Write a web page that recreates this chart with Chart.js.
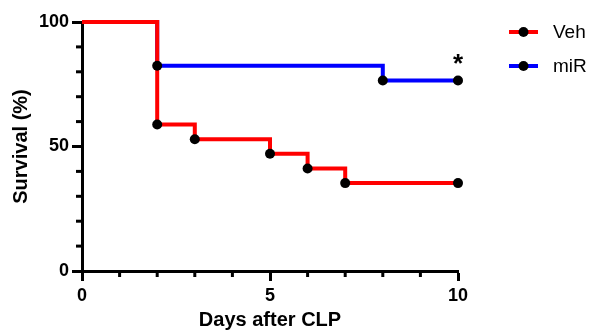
<!DOCTYPE html>
<html>
<head>
<meta charset="utf-8">
<script src="https://cdn.jsdelivr.net/npm/chart.js@4.4.1/dist/chart.umd.min.js"></script>
<style>
  html, body { margin: 0; padding: 0; background: #fff; }
  #wrap { position: relative; width: 589px; height: 332px; }
</style>
</head>
<body>
<div id="wrap"><canvas id="survivalChart"></canvas></div>
<script>
const vehDays = [0, 2, 3, 5, 6, 7, 10];
const vehSurvival = [100, 58.8, 52.9, 47.1, 41.2, 35.3, 35.3];
const mirDays = [0, 2, 8, 10];
const mirSurvival = [100, 82.4, 76.5, 76.5];
const xLabels = [0, 5, 10];
const yLabels = [0, 50, 100];
const seriesNames = ['Veh', 'miR'];
const seriesColors = ['#ff0000', '#0000ff'];

const FONT = "'Liberation Sans', Arial, Helvetica, sans-serif";

const toPoints = (xs, ys) => xs.map((x, i) => ({ x, y: ys[i] }));
const vehPoints = toPoints(vehDays, vehSurvival);
const mirPoints = toPoints(mirDays, mirSurvival);

// no marker at day 0, black dots at every event and at the end
const markerRadius = ctx => (ctx.dataIndex === 0 ? 0 : 5);

const markers = data => ({
    data,
    showLine: false,
    pointRadius: markerRadius,
    pointBackgroundColor: '#000',
    pointBorderWidth: 0,
    order: 0,
    clip: false
});

const stepLine = (label, data, color) => ({
    label,
    data,
    borderColor: color,
    borderWidth: 4,
    stepped: true,
    borderJoinStyle: 'miter',
    pointRadius: 0,
    fill: false,
    order: 1,
    clip: false
});

const decor = {
    id: 'decor',
    afterDraw(chart) {
        const { ctx } = chart;
        const xs = chart.scales.x;
        const ys = chart.scales.y;
        ctx.save();
        ctx.strokeStyle = '#000';
        ctx.lineWidth = 3;
        ctx.lineCap = 'butt';

        // minor ticks
        xs.ticks.forEach(t => {
            if (xLabels.includes(t.value)) return;
            const px = xs.getPixelForValue(t.value);
            ctx.beginPath();
            ctx.moveTo(px, xs.top);
            ctx.lineTo(px, xs.top + 6);
            ctx.stroke();
        });
        ys.ticks.forEach(t => {
            if (yLabels.includes(t.value)) return;
            const py = ys.getPixelForValue(t.value);
            ctx.beginPath();
            ctx.moveTo(ys.right, py);
            ctx.lineTo(ys.right - 6, py);
            ctx.stroke();
        });

        // significance mark over the last miR point
        const last = mirDays.length - 1;
        ctx.fillStyle = '#000';
        ctx.font = 'bold 26px ' + FONT;
        ctx.textAlign = 'center';
        ctx.textBaseline = 'alphabetic';
        const m = ctx.measureText('*');
        const cy = ys.getPixelForValue(mirSurvival[last]) - 22;
        ctx.fillText('*', xs.getPixelForValue(mirDays[last]),
            cy + (m.actualBoundingBoxAscent - m.actualBoundingBoxDescent) / 2);

        // legend
        const rows = [32, 66];
        ctx.font = '19px ' + FONT;
        ctx.textAlign = 'left';
        ctx.textBaseline = 'middle';
        seriesNames.forEach((name, i) => {
            const ry = rows[i];
            ctx.strokeStyle = seriesColors[i];
            ctx.lineWidth = 4;
            ctx.beginPath();
            ctx.moveTo(509, ry);
            ctx.lineTo(538, ry);
            ctx.stroke();
            ctx.fillStyle = '#000';
            ctx.beginPath();
            ctx.arc(523.5, ry, 5, 0, Math.PI * 2);
            ctx.fill();
            ctx.fillText(name, 553, ry + 1);
        });
        ctx.restore();
    }
};

const majorTick = labels => ctx => (labels.includes(ctx.tick.value) ? '#000' : 'rgba(0,0,0,0)');

new Chart(document.getElementById('survivalChart'), {
    type: 'line',
    data: {
        datasets: [
            markers(vehPoints),
            markers(mirPoints),
            stepLine('Veh', vehPoints, seriesColors[0]),
            stepLine('miR', mirPoints, seriesColors[1])
        ]
    },
    options: {
        responsive: true,
        maintainAspectRatio: false,
        animation: false,
        events: [],
        layout: {
            padding: { left: 0, right: 131, top: 22, bottom: 0 }
        },
        plugins: {
            legend: { display: false },
            tooltip: { enabled: false }
        },
        scales: {
            x: {
                type: 'linear',
                min: 0,
                max: 10,
                afterFit: s => { s.height = 61; },
                border: { color: '#000', width: 3 },
                grid: {
                    drawOnChartArea: false,
                    tickLength: 10,
                    tickWidth: 3,
                    tickColor: majorTick(xLabels)
                },
                ticks: {
                    stepSize: 1,
                    padding: 4,
                    maxRotation: 0,
                    autoSkip: false,
                    color: '#000',
                    font: { family: FONT, size: 18, weight: 'bold' },
                    callback: v => (xLabels.includes(v) ? String(v) : '')
                },
                title: {
                    display: true,
                    text: 'Days after CLP',
                    color: '#000',
                    padding: { top: 0, bottom: 0 },
                    font: { family: FONT, size: 20, weight: 'bold' }
                }
            },
            y: {
                min: 0,
                max: 100,
                afterFit: s => { s.width = 82; },
                border: { color: '#000', width: 3 },
                grid: {
                    drawOnChartArea: false,
                    tickLength: 10,
                    tickWidth: 3,
                    tickColor: majorTick(yLabels)
                },
                ticks: {
                    stepSize: 10,
                    padding: 3,
                    autoSkip: false,
                    color: '#000',
                    font: { family: FONT, size: 18, weight: 'bold' },
                    callback: v => (yLabels.includes(v) ? String(v) : '')
                },
                title: {
                    display: true,
                    text: 'Survival (%)',
                    color: '#000',
                    padding: { top: 9, bottom: 0 },
                    font: { family: FONT, size: 20, weight: 'bold' }
                }
            }
        }
    },
    plugins: [decor]
});
</script>
</body>
</html>
